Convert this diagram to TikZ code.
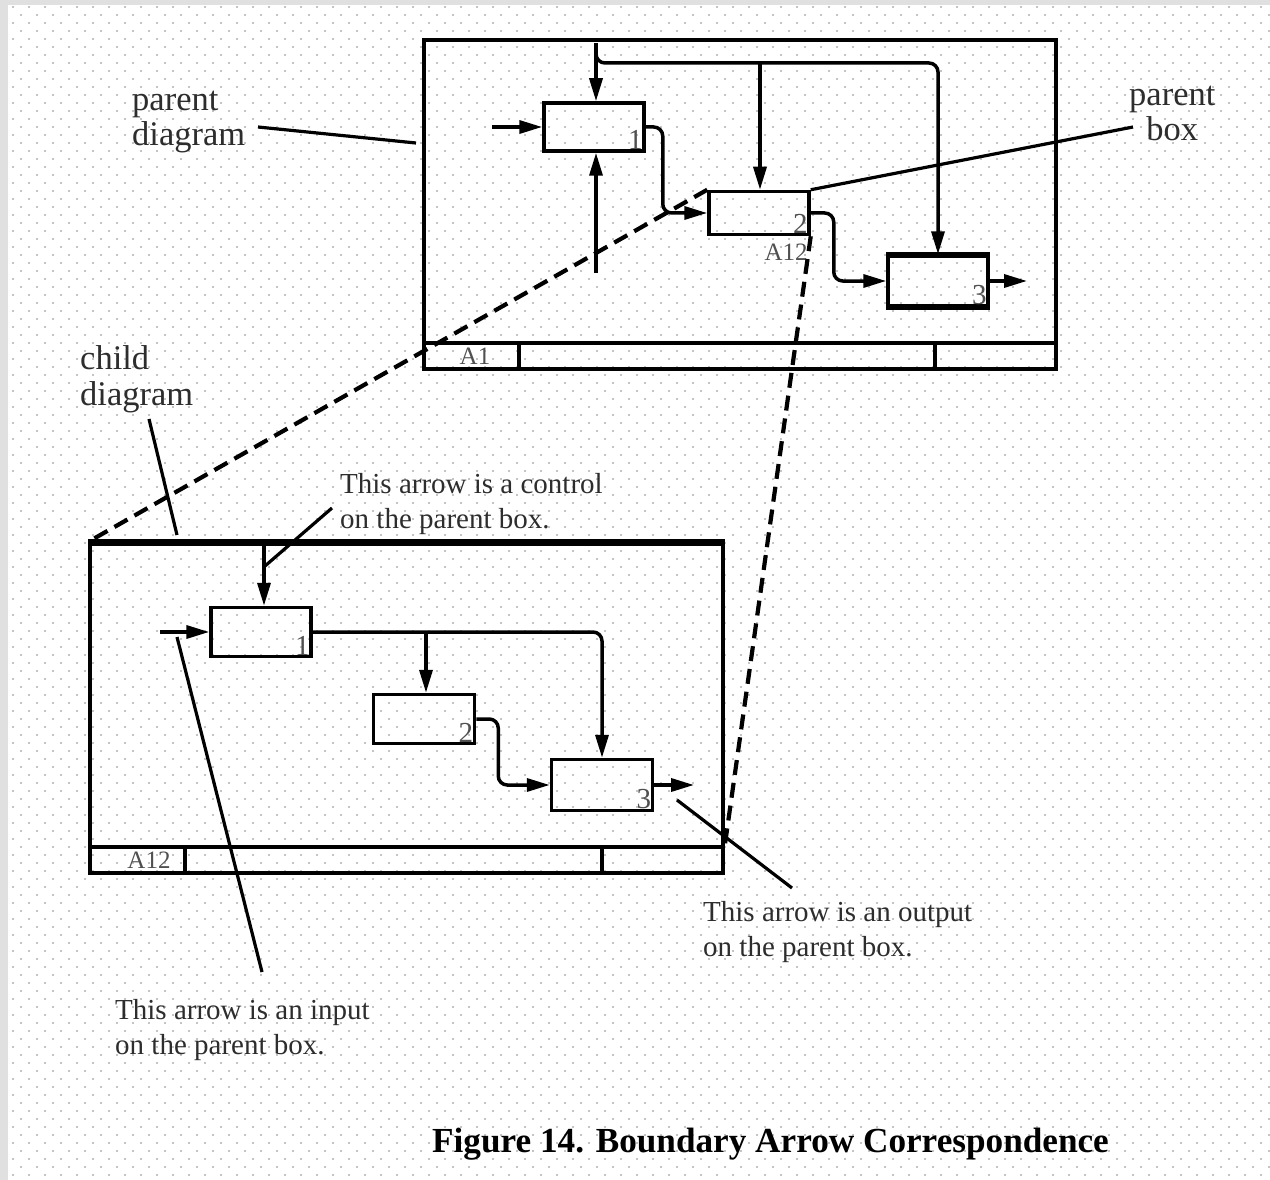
\documentclass[tikz,border=0pt]{standalone}
\usepackage{fontspec}
\setmainfont{Liberation Serif}
\usetikzlibrary{arrows.meta,calc}

\definecolor{edgegray}{RGB}{224,224,224}
\definecolor{dotgray}{RGB}{196,196,196}
\definecolor{inkgray}{RGB}{45,45,45}
\definecolor{numgray}{RGB}{80,80,80}

\tikzset{
  dotrow/.style={dotgray, line width=1.6pt, dash pattern=on 1.6pt off 14.4pt},
  diaframe/.style={draw, line width=4pt, inner sep=0pt},
  strip/.style={line width=4pt},
  actbox/.style={draw, line width=3.5pt, inner sep=0pt},
  flow/.style={line width=3.5pt, rounded corners=9pt, -{Triangle[length=23pt,width=13pt]}},
  leader/.style={line width=3.2pt},
  corr/.style={line width=4.2pt, dash pattern=on 15pt off 8pt},
  annot/.style={font=\fontsize{29}{35}\selectfont, text=inkgray, align=left, inner sep=0pt},
  biglabel/.style={font=\fontsize{34.5}{34.5}\selectfont, text=inkgray, inner sep=0pt},
  tag/.style={font=\fontsize{25}{25}\selectfont, text=numgray, inner sep=0pt},
  boxno/.style={label={[tag, font=\fontsize{29}{29}\selectfont, anchor=south east, inner sep=3pt]south east:#1}},
}

\begin{document}
\begin{tikzpicture}[x=1pt,y=-1pt]
\useasboundingbox (0,0) rectangle (1270,1180);

% paper with a staggered dot grid and a grey edge
\fill[white] (0,0) rectangle (1270,1180);
\foreach \r in {0,...,146}{
  \pgfmathsetmacro\yy{7+8*\r}
  \pgfmathsetmacro\xs{12+8*mod(\r,2)}
  \draw[dotrow] (\xs,\yy) -- (1270,\yy);
}
\fill[edgegray] (0,0) rectangle (1270,5);
\fill[edgegray] (0,0) rectangle (8,1180);

% ---------------- parent diagram ----------------
\node[diaframe, minimum width=632pt, minimum height=329pt] (pfr) at (740,204.5) {};
\draw[strip] ($(pfr.south west)+(0,-28)$) -- ($(pfr.south east)+(0,-28)$);
\draw[strip] ($(pfr.south west)+(97,0)$) -- ($(pfr.south west)+(97,-28)$);
\draw[strip] ($(pfr.south east)+(-123,0)$) -- ($(pfr.south east)+(-123,-28)$);
\node[tag] (pnode) at (475,356) {A1};

\node[actbox, minimum width=100pt, minimum height=48pt, boxno=1] (pb1) at (594,127) {};
\node[actbox, minimum width=100pt, minimum height=43pt, boxno=2,
      label={[tag, anchor=north east, inner sep=0pt, xshift=-3pt, yshift=-7pt]south east:A12}] (pb2) at (759,213) {};
\node[actbox, minimum width=100pt, minimum height=50pt, boxno=3] (pb3) at (938,281) {};
\draw[line width=5pt] (pb3.north west) -- (pb3.north east);
\draw[line width=5pt] (pb3.south west) -- (pb3.south east);

\coordinate (pctl) at (596,43);
\coordinate (pbr) at (596,50);
\coordinate (pj) at (760,63);
\coordinate (pmech) at (596,273);
\coordinate (pin) at (492,127);
\coordinate (pout) at (1027,281);

\draw[flow] (pctl) -- (pctl |- pb1.north);
\draw[flow] (pbr) |- (pj) -| (pb3.north);
\draw[flow] (pj) -- (pj |- pb2.north);
\draw[flow] (pmech) -- (pmech |- pb1.south);
\draw[flow] (pin) -- (pb1.west);
\draw[flow] (pb1.east) -- ++(17,0) |- (pb2.west);
\draw[flow] (pb2.east) -- ++(23,0) |- (pb3.west);
\draw[flow] (pb3.east) -- (pout);

% ---------------- child diagram ----------------
\node[diaframe, minimum width=633pt, minimum height=329pt] (cfr) at (406.5,708.5) {};
\draw[line width=6pt] (cfr.north west) -- (cfr.north east);
\draw[strip] ($(cfr.south west)+(0,-28)$) -- ($(cfr.south east)+(0,-28)$);
\draw[strip] ($(cfr.south west)+(97,0)$) -- ($(cfr.south west)+(97,-28)$);
\draw[strip] ($(cfr.south east)+(-123,0)$) -- ($(cfr.south east)+(-123,-28)$);
\node[tag] (cnode) at (149,860) {A12};

\node[actbox, minimum width=100pt, minimum height=49pt, boxno=1] (cb1) at (261,632) {};
\node[actbox, minimum width=101pt, minimum height=49pt, boxno=2] (cb2) at (424,719) {};
\node[actbox, minimum width=101pt, minimum height=51pt, boxno=3] (cb3) at (602,785) {};

\coordinate (cctl) at (264,545);
\coordinate (cin) at (160,632);
\coordinate (cj) at (426,632);
\coordinate (cout) at (694,785);

\draw[flow] (cctl) -- (cctl |- cb1.north);
\draw[flow] (cin) -- (cb1.west);
\draw[flow] (cb1.east) -| (cb3.north);
\draw[flow] (cj) -- (cj |- cb2.north);
\draw[flow] (cb2.east) -- ++(22,0) |- (cb3.west);
\draw[flow] (cb3.east) -- (cout);

% ---------------- correspondence lines ----------------
\coordinate (cfoot) at ($(cfr.south east)+(0,-31)$);
\draw[corr] (pb2.north west) -- (cfr.north west);
\draw[corr] (pb2.south east) -- (cfoot);

% ---------------- labels and leaders ----------------
\node[biglabel, align=left, anchor=north west] (lpd) at (132,91) {parent\\[0pt]diagram};
\node[biglabel, align=center, anchor=north west] (lpb) at (1129,86) {parent\\[0pt]box};
\node[biglabel, align=left, anchor=north west] (lcd) at (80,345) {child\\[1.5pt]diagram};

\node[annot, anchor=north west] (lctl) at (340,473) {This arrow is a control\\on the parent box.};
\node[annot, anchor=north west] (lout) at (703,901) {This arrow is an output\\on the parent box.};
\node[annot, anchor=north west] (lin) at (115,999) {This arrow is an input\\on the parent box.};

\coordinate (lpd-a) at (258,127);
\coordinate (lpd-b) at (416,143);
\coordinate (lpb-a) at (1133,127);
\coordinate (lcd-a) at (149,419);
\coordinate (lcd-b) at (177,535);
\coordinate (lctl-a) at (332,508);
\coordinate (lctl-b) at (265,566);
\coordinate (lin-a) at (262,972);
\coordinate (lin-b) at (177,637);
\coordinate (lout-a) at (792,888);
\coordinate (lout-b) at (677,800);

\draw[leader] (lpd-a) -- (lpd-b);
\draw[leader] (lpb-a) -- (pb2.north east);
\draw[leader] (lcd-a) -- (lcd-b);
\draw[leader] (lctl-a) -- (lctl-b);
\draw[leader] (lin-a) -- (lin-b);
\draw[leader] (lout-a) -- (lout-b);

% ---------------- caption ----------------
\node[font=\bfseries\fontsize{35.2}{35.2}\selectfont, anchor=base west, inner sep=0pt] (caption) at (432,1152)
  {Figure 14. Boundary Arrow Correspondence};
\end{tikzpicture}
\end{document}
